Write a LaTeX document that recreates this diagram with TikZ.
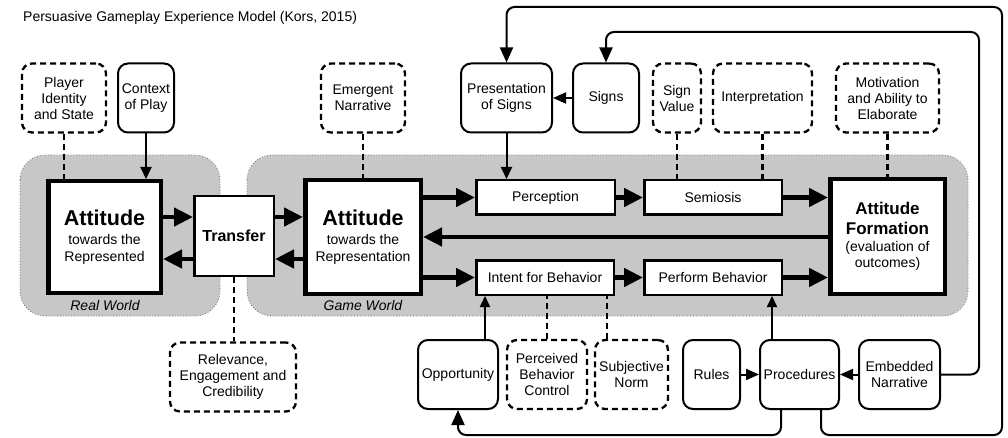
\documentclass[tikz,border=0pt]{standalone}
\usepackage{fontspec}
\setmainfont{Liberation Sans}
\usetikzlibrary{arrows.meta}
\begin{document}
\begin{tikzpicture}[x=1pt,y=-1pt,
  every node/.style={font=\fontsize{14}{16}\selectfont, align=center, inner sep=0pt},
  rbox/.style={draw, rounded corners=10pt, line width=2pt, minimum height=69pt, fill=white},
  dbox/.style={draw, rounded corners=10pt, line width=2.3pt, dash pattern=on 6pt off 4pt, minimum height=69pt, fill=white},
  mainbox/.style={draw, line width=4.5pt, fill=white, minimum height=113.5pt, font=\fontsize{14}{17}\selectfont},
  pbox/.style={draw, line width=2.5pt, fill=white, minimum height=34.5pt},
  world/.style={fill=black!22, draw=black!55, dotted, line width=0.8pt, rounded corners=25pt},
  worldlabel/.style={font=\fontsize{14}{16}\selectfont\itshape},
  bigarr/.style={line width=4.5pt, -{Triangle[length=19pt,width=18pt]}},
  thinarr/.style={line width=2pt, -{Triangle[length=12pt,width=11pt]}},
  medarr/.style={line width=2pt, -{Triangle[length=13pt,width=11pt]}},
  routearr/.style={line width=2pt, rounded corners=8pt, -{Triangle[length=15pt,width=13pt]}},
  uparr/.style={line width=2pt, -{Triangle[length=11pt,width=10pt]}},
  dline/.style={line width=2.3pt, dash pattern=on 6pt off 4pt}
]
\useasboundingbox (0,0) rectangle (1008,438);
\fill[white] (0,0) rectangle (1008,438);

\node[anchor=west] (title) at (23,18) {Persuasive Gameplay Experience Model (Kors, 2015)};

% worlds
\draw[world] (20,155) rectangle (220,316);
\draw[world] (247,155) rectangle (968,316);
\node[worldlabel] (rw) at (105,305) {Real World};
\node[worldlabel] (gw) at (363,305) {Game World};

% top row
\node[dbox, minimum width=84pt] (pis) at (64,98) {Player\\Identity\\and State};
\node[rbox, minimum width=56pt] (cop) at (146,98) {Context\\of Play};
\node[dbox, minimum width=84pt] (emn) at (363,98) {Emergent\\Narrative};
\node[rbox, minimum width=91pt] (pos) at (506.5,98) {Presentation\\of Signs};
\node[rbox, minimum width=66pt] (sig) at (606,98) {Signs};
\node[dbox, minimum width=48pt] (sv) at (677,98) {Sign\\Value};
\node[dbox, minimum width=99pt] (int) at (762.5,98) {Interpretation};
\node[dbox, minimum width=103pt] (mot) at (887.5,98) {Motivation\\and Ability to\\Elaborate};

% main row
\node[mainbox, minimum width=112.5pt, minimum height=111.5pt] (atr) at (104.5,237)
  {\fontsize{21.5}{23}\selectfont\bfseries Attitude\\[2pt]towards the\\Represented};
\node[pbox, minimum width=79.5pt, minimum height=79.5pt] (tra) at (234,236)
  {\fontsize{16}{18}\selectfont\bfseries Transfer};
\node[mainbox, minimum width=115.5pt] (arp) at (363,237)
  {\fontsize{21.5}{23}\selectfont\bfseries Attitude\\[2pt]towards the\\Representation};
\node[pbox, minimum width=138.5pt] (per) at (545.5,197.5) {Perception};
\node[pbox, minimum width=137.5pt] (sem) at (713,197.5) {Semiosis};
\node[pbox, minimum width=137.5pt] (ifb) at (545,277.5) {Intent for Behavior};
\node[pbox, minimum width=137.5pt] (pb) at (713,277.5) {Perform Behavior};
\node[mainbox, minimum width=114.5pt, minimum height=114.5pt, font=\fontsize{14}{16.5}\selectfont] (af) at (887.5,236.5)
  {\fontsize{17}{19}\selectfont\bfseries Attitude\\[3.5pt]\fontsize{17}{19}\selectfont\bfseries Formation\\[0.5pt](evaluation of\\outcomes)};

% bottom row
\node[rbox, minimum width=80pt] (opp) at (458,374.5) {Opportunity};
\node[dbox, minimum width=80pt] (pbc) at (547,374.5) {Perceived\\Behavior\\Control};
\node[dbox, minimum width=73pt] (sn) at (631.5,374.5) {Subjective\\Norm};
\node[rbox, minimum width=57pt] (rul) at (711.5,374.5) {Rules};
\node[rbox, minimum width=79pt] (pro) at (799.5,374.5) {Procedures};
\node[rbox, minimum width=81pt] (emb) at (899.5,374.5) {Embedded\\Narrative};
\node[dbox, minimum width=126pt] (rel) at (233,377) {Relevance,\\Engagement and\\Credibility};

% dashed influences
\draw[dline] (pis.south) -- (pis.south |- atr.north);
\draw[dline] (emn.south) -- (emn.south |- arp.north);
\draw[dline] (sv.south) -- (sv.south |- sem.north);
\draw[dline] (int.south) -- (int.south |- sem.north);
\draw[dline] (mot.south) -- (mot.south |- af.north);
\draw[dline] (tra.south) -- (tra.south |- rel.north);
\draw[dline] (pbc.north) -- (pbc.north |- ifb.south);
\draw[dline] (sn.north -| 607,0) -- (ifb.south -| 607,0);

% thin arrows
\draw[thinarr] (cop.south) -- (cop.south |- atr.north);
\draw[thinarr] (pos.south) -- (pos.south |- per.north);
\draw[medarr] (sig.west) -- (pos.east);
\draw[uparr] (opp.north -| 485,0) -- (ifb.south -| 485,0);
\draw[uparr] (pro.north -| 772,0) -- (pb.south -| 772,0);
\draw[medarr] (rul.east) -- (pro.west);
\draw[medarr] (emb.west) -- (pro.east);

% big arrows
\draw[bigarr] (atr.east |- 0,217) -- (tra.west |- 0,217);
\draw[bigarr] (tra.west |- 0,259) -- (atr.east |- 0,259);
\draw[bigarr] (tra.east |- 0,217) -- (arp.west |- 0,217);
\draw[bigarr] (arp.west |- 0,259) -- (tra.east |- 0,259);
\draw[bigarr] (arp.east |- per.west) -- (per.west);
\draw[bigarr] (arp.east |- ifb.west) -- (ifb.west);
\draw[bigarr] (af.west |- 0,237) -- (arp.east |- 0,237);
\draw[bigarr] (per.east) -- (sem.west);
\draw[bigarr] (sem.east) -- (af.west |- sem.east);
\draw[bigarr] (ifb.east) -- (pb.west);
\draw[bigarr] (pb.east) -- (af.west |- pb.east);

% feedback routes
\draw[routearr] (pro.south -| 781,0) -- (781,435) -- (458,435) -- (opp.south);
\draw[routearr] (pro.south -| 821,0) -- (821,435) -- (1002,435) -- (1002,7) -- (506.5,7) -- (pos.north);
\draw[routearr] (emb.east) -- (979,374.5) -- (979,32) -- (606,32) -- (sig.north);
\end{tikzpicture}
\end{document}
